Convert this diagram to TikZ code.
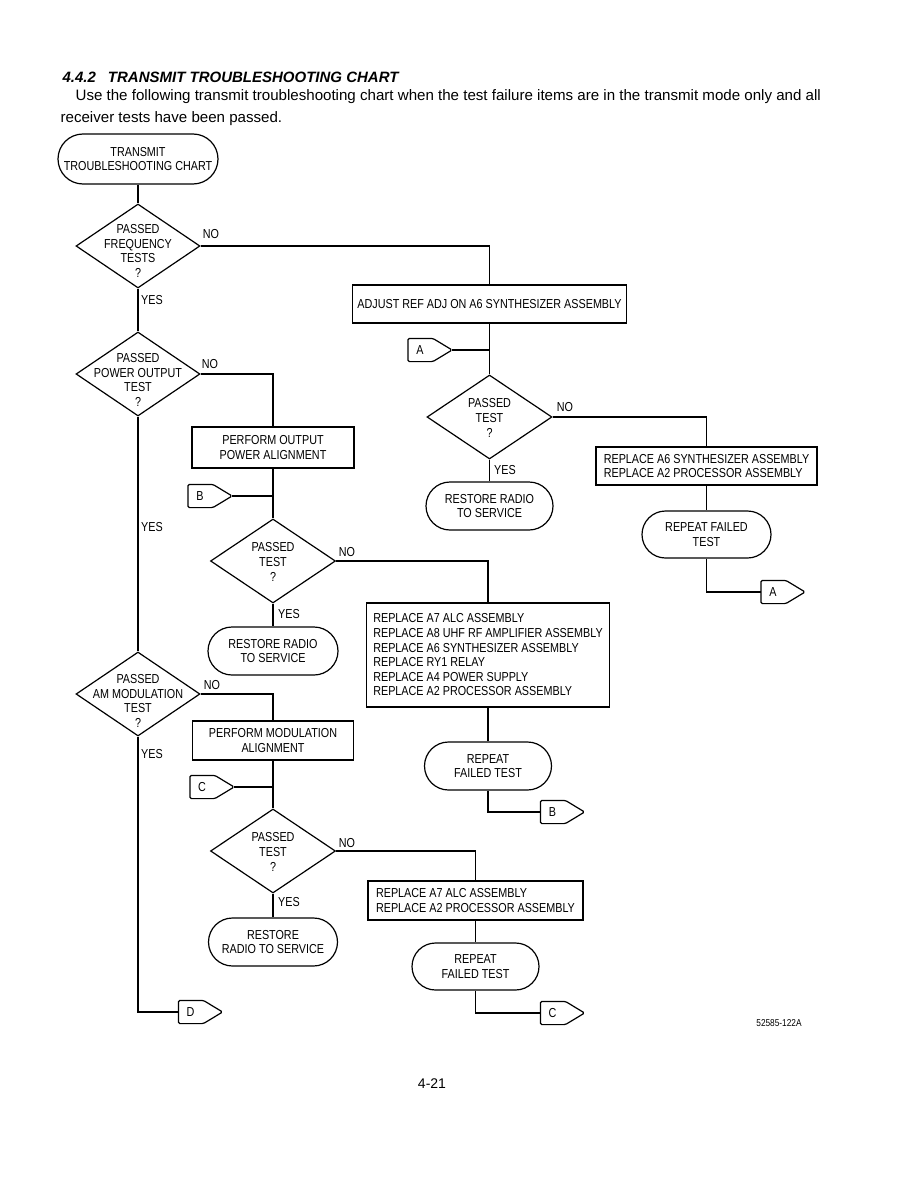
\documentclass[tikz,border=0pt]{standalone}
\usepackage{fontspec}
\setmainfont{Liberation Sans}
\newfontfamily\chartfont[FakeStretch=0.83]{Liberation Sans}
\usetikzlibrary{shapes.geometric,calc}
\tikzset{
  chart/.style={font=\chartfont\fontsize{13}{14.6}\selectfont, inner sep=0},
  term/.style={chart, draw, rectangle, rounded corners=23.5pt, minimum height=47, align=center},
  boxn/.style={chart, draw, rectangle, align=left},
  dia/.style={draw, diamond, inner sep=0, minimum width=124, minimum height=84},
  dtext/.style={chart, align=center},
  opc/.style={inner sep=0, minimum width=43, minimum height=22},
  lbl/.style={chart},
  link/.style={line width=1.2pt}
}
\newcommand\offpage[4]{%
  \node[opc] (#1) at (#2,#3) {};
  \draw[link, rounded corners=1.5pt] ($(#1.north west)+(25,0)$) -- (#1.east) -- ($(#1.south west)+(25,0)$) -- (#1.south west) -- (#1.north west) -- cycle;
  \node[lbl] at ($(#1.west)+(12,0)$) {#4};}
\begin{document}
\begin{tikzpicture}[x=1pt,y=-1pt, line width=1.2pt]
\useasboundingbox[fill=white] (0,0) rectangle (918,1188);
% header
\node[anchor=base west, inner sep=0, font=\bfseries\itshape\fontsize{15}{17}\selectfont] (title) at (62,83) {4.4.2\hspace{0.8em}TRANSMIT TROUBLESHOOTING CHART};
\node[anchor=base west, inner sep=0, font=\fontsize{15.1}{18}\selectfont] (par1) at (75,101) {Use the following transmit troubleshooting chart when the test failure items are in the transmit mode only and all};
\node[anchor=base west, inner sep=0, font=\fontsize{15.1}{18}\selectfont] (par2) at (60,123) {receiver tests have been passed.};
% left column
\node[term, minimum width=160, minimum height=50, rounded corners=25pt] (start) at (138,159) {TRANSMIT\\TROUBLESHOOTING CHART};
\node[dia] (d1) at (138,246) {};
\node[dtext] at (138,251) {PASSED\\FREQUENCY\\TESTS\\?};
\node[dia] (d2) at (138,374) {};
\node[dtext] at (138,380) {PASSED\\POWER OUTPUT\\TEST\\?};
\node[dia] (d5) at (138,694) {};
\node[dtext] at (138,701) {PASSED\\AM MODULATION\\TEST\\?};
% right top
\node[boxn, minimum width=274, minimum height=38] (adj) at (489.5,304) {ADJUST REF ADJ ON A6 SYNTHESIZER ASSEMBLY};
\node[dia, minimum width=125] (d3) at (489.5,417) {};
\node[dtext] at (489.5,418) {PASSED\\TEST\\?};
\node[term, minimum width=127, minimum height=48, rounded corners=24pt] (rr1) at (489.5,506) {RESTORE RADIO\\TO SERVICE};
\node[boxn, minimum width=221, minimum height=38] (rep1) at (706.5,466) {REPLACE A6 SYNTHESIZER ASSEMBLY\\REPLACE A2 PROCESSOR ASSEMBLY};
\node[term, minimum width=129] (rf1) at (706.5,534.5) {REPEAT FAILED\\TEST};
% middle
\node[boxn, align=center, minimum width=162, minimum height=41] (pa) at (273,447.5) {PERFORM OUTPUT\\POWER ALIGNMENT};
\node[dia, minimum width=125] (d4) at (273,561) {};
\node[dtext] at (273,562) {PASSED\\TEST\\?};
\node[term, minimum width=130, minimum height=48, rounded corners=24pt] (rr2) at (273,651) {RESTORE RADIO\\TO SERVICE};
\node[boxn, minimum width=243, minimum height=104] (big) at (488,655) {REPLACE A7 ALC ASSEMBLY\\REPLACE A8 UHF RF AMPLIFIER ASSEMBLY\\REPLACE A6 SYNTHESIZER ASSEMBLY\\REPLACE RY1 RELAY\\REPLACE A4 POWER SUPPLY\\REPLACE A2 PROCESSOR ASSEMBLY};
\node[term, minimum width=127, minimum height=48, rounded corners=24pt] (rf2) at (488,766) {REPEAT\\FAILED TEST};
% lower
\node[boxn, align=center, minimum width=161, minimum height=39] (ma) at (273,740.5) {PERFORM MODULATION\\ALIGNMENT};
\node[dia, minimum width=125] (d6) at (273,851) {};
\node[dtext] at (273,852) {PASSED\\TEST\\?};
\node[term, minimum width=129, minimum height=48, rounded corners=24pt] (rr3) at (273,942) {RESTORE\\RADIO TO SERVICE};
\node[boxn, minimum width=215, minimum height=39] (rep2) at (475.5,900.5) {REPLACE A7 ALC ASSEMBLY\\REPLACE A2 PROCESSOR ASSEMBLY};
\node[term, minimum width=127] (rf3) at (475.5,966.5) {REPEAT\\FAILED TEST};
% off-page connectors
\offpage{cA1}{430}{350}{A}
\offpage{cA2}{783}{592}{A}
\offpage{cB1}{210}{496}{B}
\offpage{cB2}{562.5}{812}{B}
\offpage{cC1}{212}{787}{C}
\offpage{cC2}{562.5}{1013}{C}
\offpage{cD}{200.5}{1012}{D}
% connectors
\draw[link] (start) -- (d1);
\draw[link] (d1) -- (d2);
\draw[link] (d2) -- (d5);
\draw[link] (d1.east) -| (adj.north);
\draw[link] (adj) -- (d3);
\draw[link] (cA1.east) -- (cA1.east -| d3.north);
\draw[link] (d3.east) -| (rep1.north);
\draw[link] (d3) -- (rr1);
\draw[link] (rep1) -- (rf1);
\draw[link] (rf1.south) |- (cA2.west);
\draw[link] (d2.east) -| (pa.north);
\draw[link] (pa) -- (d4);
\draw[link] (cB1.east) -- (cB1.east -| d4.north);
\draw[link] (d4.east) -| (big.north);
\draw[link] (d4) -- (rr2);
\draw[link] (big) -- (rf2);
\draw[link] (rf2.south) |- (cB2.west);
\draw[link] (d5.east) -| (ma.north);
\draw[link] (ma) -- (d6);
\draw[link] (cC1.east) -- (cC1.east -| d6.north);
\draw[link] (d6.east) -| (rep2.north);
\draw[link] (d6) -- (rr3);
\draw[link] (rep2) -- (rf3);
\draw[link] (rf3.south) |- (cC2.west);
\draw[link] (d5.south) |- (cD.west);
% labels
\node[lbl] (n1) at (211,234) {NO};
\node[lbl] (y1) at (152,300) {YES};
\node[lbl] (n2) at (210,364) {NO};
\node[lbl] (y2) at (152,527) {YES};
\node[lbl] (n3) at (565,407) {NO};
\node[lbl] (y3) at (505,470) {YES};
\node[lbl] (n4) at (347,552) {NO};
\node[lbl] (y4) at (289,614) {YES};
\node[lbl] (n5) at (212,685) {NO};
\node[lbl] (y5) at (152,754) {YES};
\node[lbl] (n6) at (347,843) {NO};
\node[lbl] (y6) at (289,902) {YES};
% footer
\node[inner sep=0, font=\chartfont\fontsize{10}{11}\selectfont] (code) at (779,1023) {52585-122A};
\node[inner sep=0, font=\fontsize{14}{16}\selectfont] (page) at (432,1084) {4-21};
\end{tikzpicture}
\end{document}
